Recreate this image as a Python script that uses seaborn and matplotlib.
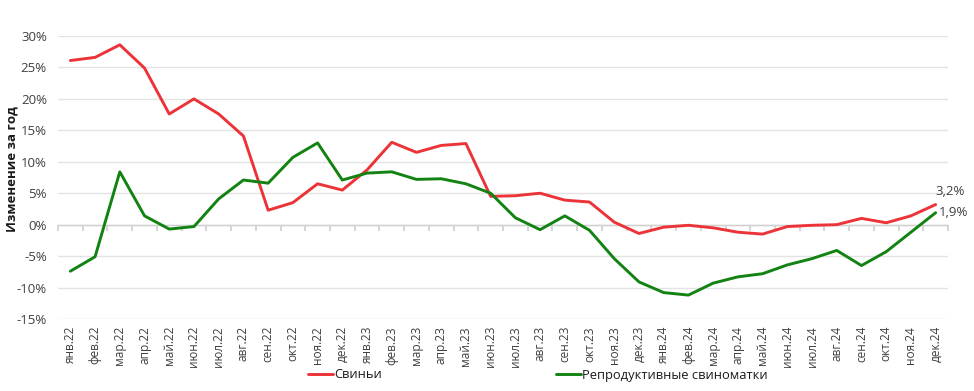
import numpy as np
import pandas as pd
import matplotlib
matplotlib.use("Agg")
import matplotlib.pyplot as plt
from matplotlib.ticker import FuncFormatter, FixedLocator
from matplotlib.lines import Line2D
import seaborn as sns

months = ["янв.22", "фев.22", "мар.22", "апр.22", "май.22", "июн.22", "июл.22", "авг.22",
          "сен.22", "окт.22", "ноя.22", "дек.22", "янв.23", "фев.23", "мар.23", "апр.23",
          "май.23", "июн.23", "июл.23", "авг.23", "сен.23", "окт.23", "ноя.23", "дек.23",
          "янв.24", "фев.24", "мар.24", "апр.24", "май.24", "июн.24", "июл.24", "авг.24",
          "сен.24", "окт.24", "ноя.24", "дек.24"]

pigs = [26.1, 26.6, 28.6, 24.9, 17.6, 20.0, 17.6, 14.1, 2.3, 3.5, 6.5, 5.5,
        8.7, 13.1, 11.5, 12.6, 12.9, 4.5, 4.6, 5.0, 3.9, 3.6, 0.4, -1.4,
        -0.4, -0.1, -0.5, -1.2, -1.5, -0.3, -0.1, 0.0, 1.0, 0.3, 1.4, 3.2]

sows = [-7.4, -5.1, 8.4, 1.4, -0.7, -0.3, 4.1, 7.1, 6.6, 10.7, 13.0, 7.1,
        8.2, 8.4, 7.2, 7.3, 6.5, 5.0, 1.1, -0.8, 1.4, -0.9, -5.4, -9.1,
        -10.8, -11.2, -9.3, -8.3, -7.8, -6.4, -5.4, -4.1, -6.5, -4.3, -1.2, 1.9]

series_names = ["Свиньи", "Репродуктивные свиноматки"]
end_labels = ["3,2%", "1,9%"]
y_ticks = [-15, -10, -5, 0, 5, 10, 15, 20, 25, 30]

sns.set_theme(style="white")
plt.rcParams["font.family"] = ["Open Sans", "DejaVu Sans"]

df = pd.DataFrame({
    "pos": list(range(len(months))) * 2,
    "value": pigs + sows,
    "series": [series_names[0]] * len(months) + [series_names[1]] * len(months),
})

colors = {series_names[0]: "#EC3338", series_names[1]: "#128212"}

fig = plt.figure(figsize=(9.74, 3.91), dpi=100)
ax = fig.add_axes([58 / 974, 1 - 319 / 391, (948 - 58) / 974, (319 - 36) / 391])

sns.lineplot(data=df, x="pos", y="value", hue="series", palette=colors,
             linewidth=2.1, ax=ax, legend=False)

ax.set_xlim(-0.5, len(months) - 0.5)
ax.set_ylim(min(y_ticks), max(y_ticks))
ax.set_yticks(y_ticks)
ax.yaxis.set_major_formatter(FuncFormatter(lambda v, p: f"{v:.0f}%"))
ax.grid(axis="y", color="#E3E3E3", linewidth=1.0)
ax.set_axisbelow(True)
for s in ax.spines.values():
    s.set_visible(False)

ax.set_xticks(range(len(months)))
ax.set_xticklabels(months, rotation=90, fontsize=8.6, color="#404040")
ax.tick_params(axis="x", length=0, pad=5)
ax.tick_params(axis="y", length=0, labelsize=9.5, labelcolor="#404040", pad=8)
ax.set_xlabel("")
ax.set_ylabel("Изменение за год", fontsize=9.5, fontweight="bold", color="#1a1a1a")
ax.yaxis.set_label_coords(-0.044, 0.53)

# zero axis with boundary tick marks
ax.axhline(0, color="#D0D0D0", linewidth=1.0, zorder=1)
sec = ax.secondary_xaxis(0, transform=ax.transData)
sec.xaxis.set_major_locator(FixedLocator(np.arange(-0.5, len(months), 1.0)))
sec.tick_params(axis="x", direction="out", length=4, color="#D0D0D0", labelbottom=False)
for s in sec.spines.values():
    s.set_visible(False)

# end labels
last = len(months) - 1
ax.annotate(end_labels[0], (last, pigs[-1]), xytext=(0, 5), textcoords="offset points",
            fontsize=9.5, color="#404040", ha="left", va="bottom")
ax.annotate(end_labels[1], (last, sows[-1]), xytext=(2, 0), textcoords="offset points",
            fontsize=9.5, color="#404040", ha="left", va="center")

handles = [Line2D([], [], color=colors[n], linewidth=2.1) for n in series_names]
fig.legend(handles, series_names, loc="center", bbox_to_anchor=(538 / 974, 1 - 375 / 391),
           ncol=2, frameon=False, fontsize=9.3, handlelength=1.9, handletextpad=0.1,
           columnspacing=13.5, labelcolor="#1a1a1a", borderaxespad=0, borderpad=0)

fig.savefig("out.png", dpi=100)
